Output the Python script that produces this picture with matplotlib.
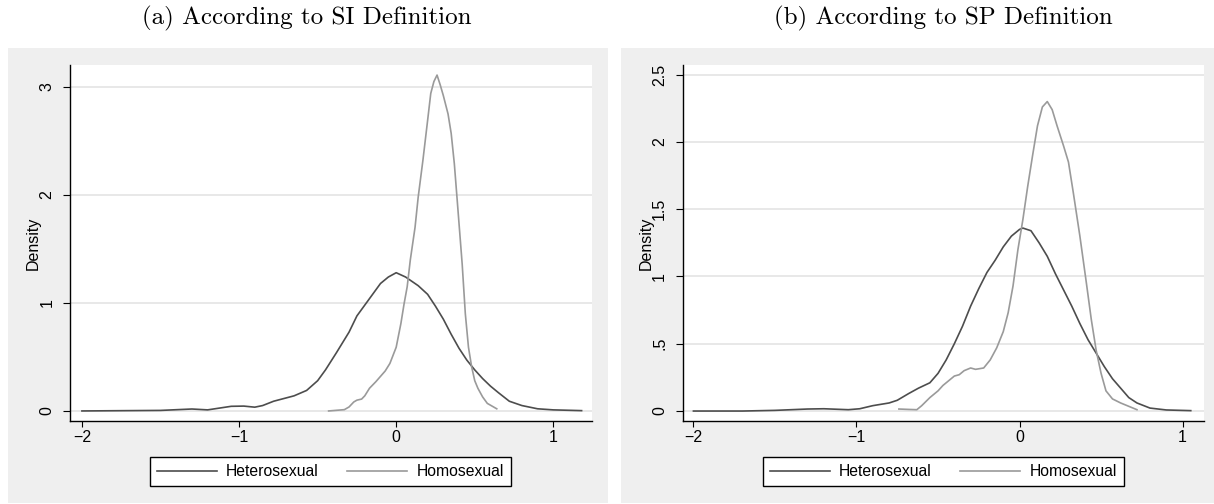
import matplotlib
matplotlib.use("Agg")
import matplotlib.pyplot as plt
from matplotlib.patches import Rectangle

plt.rcParams['font.family'] = ['Liberation Sans', 'DejaVu Sans']

# ---------------- data ----------------
si_het_x = [-2.0, -1.5, -1.3, -1.2, -1.05, -0.97, -0.9, -0.85, -0.78, -0.65, -0.57, -0.5, -0.45,
            -0.38, -0.3, -0.25, -0.18, -0.1, -0.05, 0.0, 0.06, 0.14, 0.2, 0.25, 0.3, 0.35, 0.4,
            0.45, 0.5, 0.55, 0.6, 0.65, 0.72, 0.8, 0.9, 1.0, 1.18]
si_het_y = [0.0, 0.005, 0.018, 0.01, 0.043, 0.045, 0.035, 0.05, 0.09, 0.14, 0.19, 0.28, 0.38,
            0.54, 0.73, 0.88, 1.02, 1.18, 1.24, 1.28, 1.24, 1.16, 1.08, 0.97, 0.85, 0.71, 0.58,
            0.47, 0.38, 0.30, 0.23, 0.17, 0.09, 0.05, 0.02, 0.01, 0.003]

si_hom_x = [-0.43, -0.33, -0.3, -0.27, -0.25, -0.22, -0.2, -0.17, -0.13, -0.1, -0.07, -0.04, 0.0,
            0.03, 0.05, 0.07, 0.09, 0.12, 0.14, 0.17, 0.2, 0.22, 0.24, 0.26, 0.28, 0.3, 0.33,
            0.35, 0.37, 0.39, 0.42, 0.44, 0.46, 0.48, 0.5, 0.52, 0.55, 0.58, 0.64]
si_hom_y = [0.0, 0.012, 0.037, 0.083, 0.10, 0.11, 0.14, 0.21, 0.27, 0.32, 0.37, 0.44, 0.59,
            0.81, 0.99, 1.15, 1.40, 1.70, 1.98, 2.32, 2.69, 2.94, 3.05, 3.11, 3.02, 2.92, 2.75,
            2.57, 2.29, 1.92, 1.36, 0.90, 0.59, 0.41, 0.28, 0.21, 0.13, 0.07, 0.02]

sp_het_x = [-2.0, -1.7, -1.5, -1.3, -1.2, -1.05, -0.98, -0.9, -0.8, -0.75, -0.68, -0.62, -0.55,
            -0.5, -0.45, -0.4, -0.35, -0.3, -0.25, -0.2, -0.15, -0.1, -0.05, 0.0, 0.02, 0.07,
            0.12, 0.17, 0.22, 0.27, 0.32, 0.37, 0.42, 0.47, 0.52, 0.57, 0.62, 0.67, 0.72, 0.8,
            0.9, 1.05]
sp_het_y = [0.0, 0.0, 0.005, 0.015, 0.017, 0.01, 0.017, 0.04, 0.06, 0.08, 0.13, 0.17, 0.21,
            0.28, 0.38, 0.50, 0.63, 0.78, 0.91, 1.03, 1.12, 1.22, 1.30, 1.35, 1.36, 1.34,
            1.25, 1.15, 1.02, 0.90, 0.78, 0.65, 0.53, 0.43, 0.33, 0.24, 0.17, 0.10, 0.06, 0.022,
            0.008, 0.003]

sp_hom_x = [-0.74, -0.68, -0.63, -0.6, -0.55, -0.5, -0.47, -0.43, -0.4, -0.37, -0.34, -0.3,
            -0.27, -0.22, -0.18, -0.14, -0.1, -0.07, -0.04, -0.01, 0.02, 0.05, 0.08, 0.11, 0.14,
            0.17, 0.2, 0.23, 0.27, 0.3, 0.33, 0.37, 0.41, 0.44, 0.47, 0.5, 0.53, 0.57, 0.62,
            0.67, 0.72]
sp_hom_y = [0.015, 0.012, 0.01, 0.04, 0.10, 0.15, 0.19, 0.23, 0.26, 0.27, 0.30, 0.32,
            0.31, 0.32, 0.38, 0.47, 0.59, 0.73, 0.93, 1.20, 1.42, 1.67, 1.90, 2.12, 2.26,
            2.30, 2.24, 2.12, 1.97, 1.85, 1.62, 1.30, 0.95, 0.68, 0.45, 0.28, 0.15, 0.09, 0.06,
            0.035, 0.01]

series_labels = ["Heterosexual", "Homosexual"]
titles = ["(a) According to SI Definition", "(b) According to SP Definition"]
si_yticks = [0, 1, 2, 3]
si_yticklabels = ["0", "1", "2", "3"]
sp_yticks = [0, 0.5, 1, 1.5, 2, 2.5]
sp_yticklabels = ["0", ".5", "1", "1.5", "2", "2.5"]
xticks = [-2, -1, 0, 1]
xticklabels = ["\u22122", "\u22121", "0", "1"]

# ---------------- layout ----------------
W, H = 1214, 504
fig = plt.figure(figsize=(W / 100, H / 100), dpi=100)
fig.patch.set_facecolor("white")

BG = "#efefef"
HET_C = "#4d4d4d"
HOM_C = "#9a9a9a"

def fx(px):
    return px / W

def fy(py):
    return 1 - py / H

# gray panel backgrounds
for (x0, x1) in [(8, 608), (621, 1214)]:
    fig.patches.append(Rectangle((fx(x0), fy(503)), fx(x1 - x0), (503 - 48) / H,
                                 transform=fig.transFigure, facecolor=BG, edgecolor="none",
                                 zorder=-5))

panels = [
    dict(ax_px=(70.3, 591.5), xlim=(-2.074, 1.243), ylim=(-0.093, 3.206),
         yticks=si_yticks, yticklabels=si_yticklabels,
         het=(si_het_x, si_het_y), hom=(si_hom_x, si_hom_y),
         title=titles[0], title_x=307, leg_x=330.4),
    dict(ax_px=(683.0, 1204.3), xlim=(-2.064, 1.133), ylim=(-0.074, 2.574),
         yticks=sp_yticks, yticklabels=sp_yticklabels,
         het=(sp_het_x, sp_het_y), hom=(sp_hom_x, sp_hom_y),
         title=titles[1], title_x=943, leg_x=943.4),
]

top_px, bot_px = 64.7, 421.0
for p in panels:
    l, r = p["ax_px"]
    ax = fig.add_axes([fx(l), fy(bot_px), fx(r - l), (bot_px - top_px) / H])
    ax.set_zorder(1)
    ax.set_facecolor("white")
    ax.set_xlim(*p["xlim"])
    ax.set_ylim(*p["ylim"])
    ax.set_yticks(p["yticks"])
    ax.set_yticklabels(p["yticklabels"], rotation=90, va="center")
    ax.set_xticks(xticks)
    ax.set_xticklabels(xticklabels)
    for s in ["top", "right"]:
        ax.spines[s].set_visible(False)
    for s in ["left", "bottom"]:
        ax.spines[s].set_color("black")
        ax.spines[s].set_linewidth(1.0)
    ax.yaxis.grid(True, color="#e8e8e8", linewidth=1.4)
    ax.set_axisbelow(True)
    ax.tick_params(axis="y", length=5, width=0.8, pad=6.5, labelsize=11.5, colors="black")
    ax.tick_params(axis="x", length=4.3, width=0.8, pad=2.4, labelsize=11.5, colors="black")
    ax.set_ylabel("Density", fontsize=11.5)
    ax.yaxis.set_label_coords(-0.057, 0.5)

    h1, = ax.plot(*p["het"], color=HET_C, linewidth=1.2, label=series_labels[0])
    h2, = ax.plot(*p["hom"], color=HOM_C, linewidth=1.2, label=series_labels[1])

    leg = fig.legend(handles=[h1, h2], loc="center", ncol=2,
                     bbox_to_anchor=(fx(p["leg_x"]), fy(471.75)),
                     bbox_transform=fig.transFigure, fontsize=11.3,
                     frameon=True, fancybox=False, framealpha=1,
                     edgecolor="black", handlelength=3.8, handletextpad=0.6,
                     columnspacing=1.8, borderpad=0.45, borderaxespad=0)
    leg.get_frame().set_linewidth(1.0)
    leg.set_zorder(2)

    fig.text(fx(p["title_x"]), fy(18), p["title"], ha="center", va="center",
             fontsize=18, family="cmr10")

fig.savefig("out.png", dpi=100)
